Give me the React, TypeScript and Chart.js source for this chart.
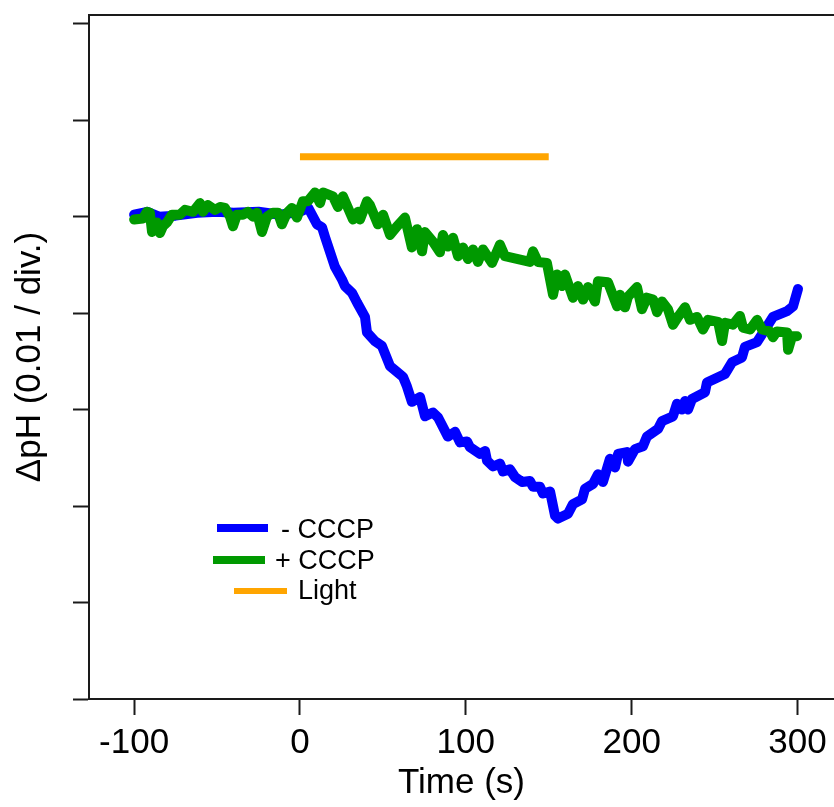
import React, { useEffect, useRef } from "react";
import { Chart, registerables } from "chart.js";

Chart.register(...registerables);

// Time (s)
const TIME_MINUS_CCCP = [
  -100, -92, -85, -75, -62, -50, -40, -25, -12, 0, 5, 10.3, 13.3, 15.1, 21.1, 25.3, 27.1, 31.4, 34.4, 39.2,
  40.4, 45.2, 49.4, 54.3, 58.5, 62.1, 64.5, 67.5, 72.4, 75.4, 80.2, 83.2, 89.2, 93.5, 96.5, 100.7, 102.5,
  108.5, 111.6, 112.8, 116.4, 120.6, 122.4, 126.6, 129.7, 133.9, 138.7, 140.5, 144.7, 146.5, 150.8, 153.8,
  155.6, 161.6, 164.6, 170.1, 171.9, 176.7, 179.7, 182.7, 186.9, 190.0, 191.8, 197.2, 197.8, 202.0, 206.8,
  209.2, 215.9, 218.3, 224.9, 227.3, 230.4, 232.2, 234.0, 236.4, 244.2, 245.4, 256.3, 260.5, 266.5, 268.3,
  275.6, 278.6, 285.2, 293.7, 297.3, 300.3,
];
// ΔpH in divisions (0.01 / div.)
const DPH_MINUS_CCCP = [
  0.02, 0.05, 0.0, 0.01, 0.04, 0.05, 0.04, 0.05, 0.02, 0.05, 0.09, -0.08, -0.11, -0.21, -0.52, -0.65, -0.72,
  -0.79, -0.89, -1.04, -1.2, -1.29, -1.34, -1.55, -1.61, -1.66, -1.76, -1.92, -1.87, -2.07, -2.03, -2.08,
  -2.28, -2.23, -2.34, -2.33, -2.39, -2.46, -2.43, -2.53, -2.59, -2.56, -2.64, -2.62, -2.7, -2.75, -2.74,
  -2.8, -2.8, -2.87, -2.85, -3.1, -3.13, -3.08, -2.98, -2.93, -2.82, -2.77, -2.67, -2.75, -2.51, -2.6,
  -2.46, -2.44, -2.54, -2.41, -2.38, -2.28, -2.2, -2.12, -2.07, -1.94, -2.0, -1.91, -2.0, -1.89, -1.82,
  -1.72, -1.63, -1.51, -1.46, -1.35, -1.3, -1.22, -1.04, -0.98, -0.93, -0.75,
];

const TIME_PLUS_CCCP = [
  -100, -94.7, -92.3, -90.5, -89.2, -86.2, -84.4, -82.6, -80.2, -77.2, -72.4, -69.3, -64.5, -60.3, -58.5,
  -55.5, -51.3, -48.2, -45.2, -42.2, -40.4, -38.0, -34.4, -31.4, -28.3, -25.9, -22.9, -19.9, -16.3, -13.3,
  -10.9, -7.8, -4.8, -1.8, 1.8, 4.8, 9.0, 12.1, 13.9, 19.9, 22.9, 25.9, 32.0, 35.0, 36.2, 40.4, 42.2, 47.0,
  50.1, 54.3, 58.5, 63.3, 67.5, 70.6, 73.6, 75.4, 80.2, 84.4, 86.2, 89.2, 92.3, 95.3, 98.3, 101.3, 104.3,
  107.3, 110.4, 115.8, 120.6, 123.6, 138.7, 140.5, 143.5, 148.9, 152.6, 155.0, 158.0, 159.8, 164.6, 167.6,
  170.7, 173.7, 177.9, 179.7, 185.7, 191.2, 193.0, 196.0, 197.8, 203.2, 206.2, 209.2, 212.9, 215.3, 218.3,
  221.9, 224.9, 227.9, 232.2, 235.2, 239.4, 243.0, 246.0, 252.1, 254.5, 256.3, 261.1, 265.3, 267.1, 271.4,
  275.6, 278.6, 283.4, 285.2, 287.6, 293.7, 294.3, 296.7, 299.7,
];
const DPH_PLUS_CCCP = [
  -0.03, -0.02, 0.05, 0.04, -0.16, -0.06, -0.17, -0.1, -0.06, 0.02, 0.02, 0.07, 0.05, 0.14, 0.05, 0.12,
  0.07, 0.1, 0.09, 0.0, -0.1, 0.02, 0.02, 0.05, 0.0, 0.04, -0.16, 0.0, 0.04, 0.04, -0.08, 0.04, 0.09, -0.01,
  0.16, 0.16, 0.25, 0.14, 0.25, 0.21, 0.1, 0.21, -0.03, 0.05, -0.03, 0.16, 0.12, -0.08, 0.02, -0.19, -0.1,
  -0.01, -0.32, -0.13, -0.36, -0.16, -0.26, -0.37, -0.19, -0.31, -0.22, -0.41, -0.32, -0.44, -0.34, -0.47,
  -0.34, -0.48, -0.29, -0.41, -0.47, -0.36, -0.47, -0.48, -0.81, -0.6, -0.72, -0.6, -0.84, -0.72, -0.86,
  -0.73, -0.88, -0.67, -0.68, -0.93, -0.81, -0.94, -0.83, -0.73, -0.96, -0.84, -0.86, -0.99, -0.88, -0.96,
  -1.12, -1.04, -0.94, -1.07, -1.04, -1.17, -1.07, -1.09, -1.29, -1.1, -1.12, -1.03, -1.15, -1.17, -1.07,
  -1.17, -1.19, -1.25, -1.19, -1.2, -1.38, -1.24, -1.24,
];

const LIGHT_TIME = [0, 150];
const LIGHT_LEVEL = [0.62, 0.62];

const X_TICKS = [-100, 0, 100, 200, 300];
const Y_TICKS = [-5, -4, -3, -2, -1, 0, 1, 2];

const SERIES_LABELS = ["- CCCP", "+ CCCP", "Light"];

const FONT = "'Liberation Sans', Arial, sans-serif";

function toPoints(xs: number[], ys: number[]) {
  return xs.map((x, i) => ({ x, y: ys[i] }));
}

const frameAndLegend = {
  id: "frameAndLegend",
  afterDatasetsDraw(chart: any) {
    const { ctx, chartArea } = chart;
    ctx.save();
    // top frame line
    ctx.strokeStyle = "#1a1a1a";
    ctx.lineWidth = 2;
    ctx.beginPath();
    ctx.moveTo(chartArea.left - 1, chartArea.top);
    ctx.lineTo(chartArea.right, chartArea.top);
    ctx.stroke();

    // legend
    const items = [
      { x1: 217, x2: 268, y: 528, w: 8, tx: 281, ty: 538 },
      { x1: 213, x2: 265, y: 560, w: 8, tx: 275, ty: 569 },
      { x1: 234, x2: 287, y: 591, w: 6, tx: 298, ty: 599 },
    ];
    const ds = chart.data.datasets;
    ctx.font = `27px ${FONT}`;
    ctx.textBaseline = "alphabetic";
    ctx.textAlign = "left";
    items.forEach((it, i) => {
      ctx.strokeStyle = ds[i].borderColor;
      ctx.lineWidth = it.w;
      ctx.lineCap = "butt";
      ctx.beginPath();
      ctx.moveTo(it.x1, it.y);
      ctx.lineTo(it.x2, it.y);
      ctx.stroke();
      ctx.fillStyle = "#000";
      ctx.fillText(ds[i].label, it.tx, it.ty);
    });
    ctx.restore();
  },
};

export default function App() {
  const ref = useRef<HTMLCanvasElement | null>(null);

  useEffect(() => {
    if (!ref.current) return;
    const chart = new Chart(ref.current, {
      type: "line",
      data: {
        datasets: [
          {
            label: SERIES_LABELS[0],
            data: toPoints(TIME_MINUS_CCCP, DPH_MINUS_CCCP),
            borderColor: "#0000ff",
            borderWidth: 10,
            pointRadius: 0,
            borderJoinStyle: "round",
            borderCapStyle: "round",
            tension: 0,
            order: 2,
          },
          {
            label: SERIES_LABELS[1],
            data: toPoints(TIME_PLUS_CCCP, DPH_PLUS_CCCP),
            borderColor: "#009900",
            borderWidth: 10,
            pointRadius: 0,
            borderJoinStyle: "round",
            borderCapStyle: "round",
            tension: 0,
            order: 1,
          },
          {
            label: SERIES_LABELS[2],
            data: toPoints(LIGHT_TIME, LIGHT_LEVEL),
            borderColor: "#ffa500",
            borderWidth: 7,
            pointRadius: 0,
            borderCapStyle: "butt",
            tension: 0,
            order: 0,
          },
        ],
      },
      options: {
        animation: false,
        responsive: false,
        devicePixelRatio: 1,
        layout: { padding: { top: 15, left: 0, right: 0, bottom: 0 } },
        plugins: { legend: { display: false }, tooltip: { enabled: false } },
        scales: {
          x: {
            type: "linear",
            min: -127.2,
            max: 322,
            afterFit: (s: any) => {
              s.height = 108;
            },
            afterBuildTicks: (s: any) => {
              s.ticks = X_TICKS.map((v) => ({ value: v }));
            },
            ticks: {
              font: { family: FONT, size: 35 },
              color: "#000",
              padding: 7,
              maxRotation: 0,
              autoSkip: false,
            },
            grid: {
              drawOnChartArea: false,
              drawTicks: true,
              tickLength: 16,
              tickColor: "#1a1a1a",
              tickWidth: 2,
            },
            border: { display: true, color: "#1a1a1a", width: 2 },
            title: {
              display: true,
              text: "Time (s)",
              font: { family: FONT, size: 35 },
              color: "#000",
              padding: { top: 0, bottom: 3 },
            },
          },
          y: {
            type: "linear",
            min: -5,
            max: 2.09,
            afterFit: (s: any) => {
              s.width = 89;
            },
            afterBuildTicks: (s: any) => {
              s.ticks = Y_TICKS.map((v) => ({ value: v }));
            },
            ticks: {
              display: true,
              callback: () => "",
              padding: 0,
            },
            grid: {
              drawOnChartArea: false,
              drawTicks: true,
              tickLength: 16,
              tickColor: "#1a1a1a",
              tickWidth: 2,
            },
            border: { display: true, color: "#1a1a1a", width: 2 },
            title: {
              display: true,
              text: "ΔpH (0.01 / div.)",
              font: { family: FONT, size: 35 },
              color: "#000",
              padding: { top: 9, bottom: 0 },
            },
          },
        },
      },
      plugins: [frameAndLegend],
    } as any);
    return () => chart.destroy();
  }, []);

  return (
    <div style={{ position: "absolute", left: 0, top: 0, width: 834, height: 807 }}>
      <canvas ref={ref} width={834} height={807} style={{ display: "block" }} />
    </div>
  );
}
